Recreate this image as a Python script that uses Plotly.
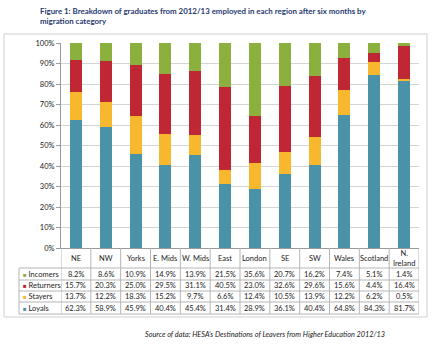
import plotly.graph_objects as go

categories = ["NE", "NW", "Yorks", "E. Mids", "W. Mids", "East", "London", "SE", "SW", "Wales", "Scotland", "N. Ireland"]
header_labels = ["NE", "NW", "Yorks", "E. Mids", "W. Mids", "East", "London", "SE", "SW", "Wales", "Scotland", "N.<br>Ireland"]
incomers = [8.2, 8.6, 10.9, 14.9, 13.9, 21.5, 35.6, 20.7, 16.2, 7.4, 5.1, 1.4]
returners = [15.7, 20.3, 25.0, 29.5, 31.1, 40.5, 23.0, 32.6, 29.6, 15.6, 4.4, 16.4]
stayers = [13.7, 12.2, 18.3, 15.2, 9.7, 6.6, 12.4, 10.5, 13.9, 12.2, 6.2, 0.5]
loyals = [62.3, 58.9, 45.9, 40.4, 45.4, 31.4, 28.9, 36.1, 40.4, 64.8, 84.3, 81.7]
y_ticks = [0, 10, 20, 30, 40, 50, 60, 70, 80, 90, 100]

C_LOY = "#4a92a8"
C_STA = "#f8b82e"
C_RET = "#c02735"
C_INC = "#8bb03e"

W, H = 445, 346
L, R, T, B = 61, 26, 43, 98
PW, PH = W - L - R, H - T - B
FONT = "Lato"

def px_x(px):
    return (px - L) / PW

def px_y(py):
    return (H - B - py) / PH

fig = go.Figure()
for name, vals, col in [("Loyals", loyals, C_LOY), ("Stayers", stayers, C_STA),
                        ("Returners", returners, C_RET), ("Incomers", incomers, C_INC)]:
    fig.add_trace(go.Bar(x=categories, y=vals, name=name, marker=dict(color=col, line=dict(width=0)),
                         width=0.4))

shapes = []
# outer frame
shapes.append(dict(type="rect", xref="paper", yref="paper", x0=px_x(4), x1=px_x(427), y0=px_y(317), y1=px_y(34),
                   line=dict(color="#cfcfcf", width=1), fillcolor="rgba(0,0,0,0)", layer="below"))
# table lines
row_lines = [268, 280, 291, 302, 314]
for ry in row_lines:
    shapes.append(dict(type="line", xref="paper", yref="paper", x0=px_x(19), x1=1, y0=px_y(ry), y1=px_y(ry),
                       line=dict(color="#b5b5b5", width=1)))
shapes.append(dict(type="line", xref="paper", yref="paper", x0=px_x(19), x1=px_x(19), y0=px_y(268), y1=px_y(314),
                   line=dict(color="#b5b5b5", width=1)))
for k in range(len(categories) + 1):
    shapes.append(dict(type="line", xref="x", yref="paper", x0=k - 0.5, x1=k - 0.5, y0=0, y1=px_y(314),
                       line=dict(color="#b5b5b5", width=1)))

annotations = []
# title
annotations.append(dict(xref="paper", yref="paper", x=px_x(38), y=px_y(4), xanchor="left", yanchor="top",
                        align="left", showarrow=False,
                        text="<b>Figure 1: Breakdown of graduates from 2012/13 employed in each region after six months by<br>migration category</b>",
                        font=dict(family=FONT, size=7.9, color="#1f3a70")))
# source
annotations.append(dict(xref="paper", yref="paper", x=px_x(265), y=px_y(334), xanchor="center", yanchor="middle",
                        showarrow=False,
                        text="<i>Source of data: HESA\u2019s Destinations of Leavers from Higher Education 2012/13</i>",
                        font=dict(family=FONT, size=7.3, color="#222222")))
# header
for i, lab in enumerate(header_labels):
    annotations.append(dict(xref="x", yref="paper", x=categories[i], y=px_y(258), showarrow=False,
                            xanchor="center", yanchor="middle", text=lab,
                            font=dict(family=FONT, size=7.5, color="#222222")))
rows = [("Incomers", incomers, C_INC), ("Returners", returners, C_RET),
        ("Stayers", stayers, C_STA), ("Loyals", loyals, C_LOY)]
row_centers = [274, 285.5, 296.5, 308]
for (name, vals, col), ry in zip(rows, row_centers):
    annotations.append(dict(xref="paper", yref="paper", x=px_x(21), y=px_y(ry), showarrow=False,
                            xanchor="left", yanchor="middle",
                            text=f"<span style='color:{col};font-size:6px'>\u25a0</span> {name}",
                            font=dict(family=FONT, size=7.5, color="#222222")))
    for i, v in enumerate(vals):
        annotations.append(dict(xref="x", yref="paper", x=categories[i], y=px_y(ry), showarrow=False,
                                xanchor="center", yanchor="middle", text=f"{v:.1f}%",
                                font=dict(family=FONT, size=7.5, color="#222222")))

fig.update_layout(
    width=W, height=H, margin=dict(l=L, r=R, t=T, b=B),
    barmode="stack", showlegend=False, bargap=0.6,
    paper_bgcolor="white", plot_bgcolor="white",
    xaxis=dict(showticklabels=False, ticks="", showgrid=False, showline=True, linecolor="#9a9a9a",
               linewidth=1, range=[-0.5, 11.5]),
    yaxis=dict(range=[0, 100], tickvals=y_ticks, ticktext=[f"{t}%" for t in y_ticks],
               showgrid=True, gridcolor="#d4d4d4", gridwidth=1, showline=True, linecolor="#9a9a9a",
               ticks="outside", ticklen=4, tickcolor="#9a9a9a", zeroline=False,
               tickfont=dict(family=FONT, size=7.5, color="#222222")),
    shapes=shapes, annotations=annotations,
)
fig.write_html("out.html")
